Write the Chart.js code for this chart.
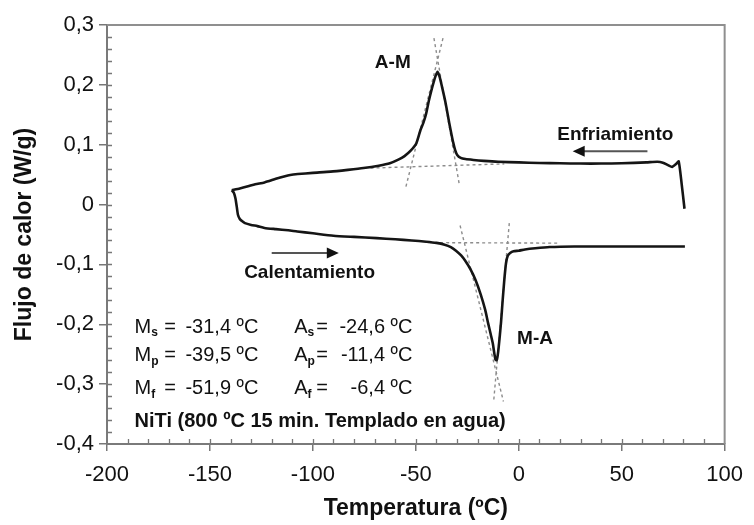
<!DOCTYPE html>
<html>
<head>
<meta charset="utf-8">
<script src="https://cdn.jsdelivr.net/npm/chart.js@4.4.1/dist/chart.umd.min.js"></script>
<style>
  html, body { margin: 0; padding: 0; background: #fff; }
  #c { display: block; }
</style>
</head>
<body>
<canvas id="c" width="754" height="525"></canvas>
<script>
// DSC scan of NiTi: cooling (A->M) and heating (M->A), heat flow in W/g vs temperature in ºC

// Cooling branch, in scan order (from 80 ºC down to -140 ºC)
const coolingT = [80.5, 79.1, 77.7, 76.5, 74.5, 72.5, 70, 67.3, 62, 50, 40, 30, 20, 10, 0, -10, -17, -22,
  -25.9, -28.2, -29.9, -30.9, -31.8, -32.6, -33.7, -35.5, -37.3, -38.5, -39.5, -40.4, -41.3, -42.5, -43.7,
  -45.0, -46.3, -47.7, -49.8, -52.5, -55.5, -58.5, -62.6, -68, -75.4, -83, -91.4, -100, -107.3, -111, -114,
  -118, -123.5, -128, -131.5, -135.5, -139.4];
const coolingQ = [-0.007, 0.035, 0.072, 0.068, 0.063, 0.066, 0.070, 0.0715, 0.0705, 0.069, 0.0685, 0.0685,
  0.069, 0.0695, 0.0705, 0.0715, 0.073, 0.0745, 0.076, 0.078, 0.083, 0.091, 0.103, 0.116, 0.135, 0.169, 0.197,
  0.214, 0.222, 0.215, 0.205, 0.190, 0.173, 0.152, 0.137, 0.125, 0.102, 0.090, 0.081, 0.075, 0.069, 0.065,
  0.061, 0.058, 0.055, 0.053, 0.051, 0.0495, 0.047, 0.043, 0.037, 0.034, 0.0306, 0.027, 0.024];

// Heating branch, in scan order (from -140 ºC up to 80 ºC)
const heatingT = [-139.4, -138.3, -137.6, -137.0, -136.4, -135.5, -134.3, -133.0, -130, -127, -123.5, -118,
  -112, -107.6, -100, -90, -80, -69, -60, -52, -45, -40, -36, -33, -30.5, -28, -26, -23.5, -21, -18.5, -16.3,
  -14.9, -13.6, -12.6, -11.9, -11.3, -10.7, -10.0, -9.4, -8.6, -7.8, -7.0, -6.2, -5.4, -4.2, -2.5, 0, 3, 8,
  15, 27, 40, 55, 70, 80.7];
const heatingQ = [0.024, 0.019, 0.010, -0.003, -0.017, -0.024, -0.028, -0.031, -0.034, -0.036, -0.039, -0.041,
  -0.043, -0.045, -0.048, -0.052, -0.054, -0.056, -0.058, -0.060, -0.062, -0.064, -0.067, -0.071, -0.077,
  -0.085, -0.094, -0.108, -0.126, -0.150, -0.176, -0.198, -0.217, -0.232, -0.248, -0.259, -0.260, -0.246,
  -0.226, -0.196, -0.159, -0.125, -0.098, -0.086, -0.081, -0.078, -0.077, -0.075, -0.073, -0.071, -0.070,
  -0.070, -0.070, -0.070, -0.070];

// Construction lines: baselines and peak tangents
const coolBaseT = [-72, -7],      coolBaseQ = [0.061, 0.068];
const coolTanLeftT = [-54.8, -36.8], coolTanLeftQ = [0.030, 0.278];
const coolTanRightT = [-29.0, -41.2], coolTanRightQ = [0.036, 0.278];
const heatBaseT = [-44, 20],      heatBaseQ = [-0.0635, -0.0645];
const heatTanLeftT = [-28.5, -7.45], heatTanLeftQ = [-0.035, -0.329];
const heatTanRightT = [-4.6, -12.2], heatTanRightQ = [-0.031, -0.329];

// Axis ticks
const xTickValues = [-200, -150, -100, -50, 0, 50, 100];
const xTickLabels = ['-200', '-150', '-100', '-50', '0', '50', '100'];
const yTickValues = [-0.4, -0.3, -0.2, -0.1, 0, 0.1, 0.2, 0.3];
const yTickLabels = ['-0,4', '-0,3', '-0,2', '-0,1', '0', '0,1', '0,2', '0,3'];
const xMinorStep = 10;
const yMinorStep = 0.02;

// Transformation temperatures
const martensiteRows = [['M', 's', '-31,4 ºC'], ['M', 'p', '-39,5 ºC'], ['M', 'f', '-51,9 ºC']];
const austeniteRows = [['A', 's', '-24,6 ºC'], ['A', 'p', '-11,4 ºC'], ['A', 'f', '-6,4 ºC']];
const sampleNote = 'NiTi (800 ºC 15 min. Templado en agua)';

const pts = (xs, ys) => xs.map((x, i) => ({ x: x, y: ys[i] }));

const FONT = "'Liberation Sans', Arial, Helvetica, sans-serif";
Chart.defaults.font.family = FONT;
Chart.defaults.color = '#111';

const curve = (label, xs, ys) => ({
  label, data: pts(xs, ys), showLine: true, borderColor: '#151515', borderWidth: 2.6,
  pointRadius: 0, tension: 0.2, fill: false
});
const guide = (label, xs, ys) => ({
  label, data: pts(xs, ys), showLine: true, borderColor: '#8c8c8c', borderWidth: 1.4,
  borderDash: [3, 3], pointRadius: 0, tension: 0, fill: false
});

const overlay = {
  id: 'overlay',
  afterDraw(chart) {
    const ctx = chart.ctx, a = chart.chartArea;
    const xs = chart.scales.x, ys = chart.scales.y;
    const px = v => xs.getPixelForValue(v), py = v => ys.getPixelForValue(v);
    ctx.save();

    // top and right frame
    ctx.strokeStyle = '#8f8f8f';
    ctx.lineWidth = 2;
    ctx.beginPath();
    ctx.moveTo(a.left, a.top);
    ctx.lineTo(a.right, a.top);
    ctx.lineTo(a.right, a.bottom);
    ctx.stroke();

    // inward minor ticks
    ctx.strokeStyle = '#777';
    ctx.lineWidth = 1.3;
    ctx.beginPath();
    for (let k = Math.round(xs.min / xMinorStep) + 1; k < Math.round(xs.max / xMinorStep); k++) {
      const x = Math.round(px(k * xMinorStep)) + 0.5;
      ctx.moveTo(x, a.bottom);
      ctx.lineTo(x, a.bottom - 5);
    }
    for (let k = Math.round(ys.min / yMinorStep) + 1; k < Math.round(ys.max / yMinorStep); k++) {
      const y = Math.round(py(k * yMinorStep)) + 0.5;
      ctx.moveTo(a.left, y);
      ctx.lineTo(a.left + 5, y);
    }
    ctx.stroke();

    // direction arrows
    const arrow = (t0, t1, q) => {
      const x0 = px(t0), x1 = px(t1), y = py(q);
      const dir = Math.sign(x1 - x0);
      ctx.strokeStyle = '#555';
      ctx.lineWidth = 2;
      ctx.beginPath();
      ctx.moveTo(x0, y);
      ctx.lineTo(x1 - dir * 11, y);
      ctx.stroke();
      ctx.fillStyle = '#111';
      ctx.beginPath();
      ctx.moveTo(x1, y);
      ctx.lineTo(x1 - dir * 12, y - 5.5);
      ctx.lineTo(x1 - dir * 12, y + 5.5);
      ctx.closePath();
      ctx.fill();
    };
    arrow(62.5, 26.2, 0.089);
    arrow(-120, -87.4, -0.081);

    // labels
    ctx.fillStyle = '#111';
    ctx.textBaseline = 'alphabetic';
    ctx.font = 'bold 19px ' + FONT;
    ctx.textAlign = 'center';
    ctx.fillText('A-M', px(-61.2), py(0.2284));
    ctx.fillText('Enfriamiento', px(46.9), py(0.1086));
    ctx.fillText('Calentamiento', px(-101.6), py(-0.122));
    ctx.fillText('M-A', px(7.9), py(-0.2324));

    // transformation temperatures block
    const rowQ = [-0.2145, -0.262, -0.3167];
    const drawRow = (row, q, tLetter, tEq, tVal, alignVal) => {
      const y = py(q);
      ctx.font = '20px ' + FONT;
      ctx.textAlign = 'left';
      ctx.fillText(row[0], px(tLetter), y);
      const w = ctx.measureText(row[0]).width;
      ctx.font = 'bold 12px ' + FONT;
      ctx.fillText(row[1], px(tLetter) + w, y + 3.5);
      ctx.font = '20px ' + FONT;
      ctx.fillText('=', px(tEq), y);
      ctx.textAlign = alignVal;
      ctx.fillText(row[2], px(tVal), y);
    };
    martensiteRows.forEach((r, i) => drawRow(r, rowQ[i], -186.6, -172.2, -161.9, 'left'));
    austeniteRows.forEach((r, i) => drawRow(r, rowQ[i], -109.1, -98.4, -51.7, 'right'));
    ctx.font = 'bold 20px ' + FONT;
    ctx.textAlign = 'left';
    ctx.fillText(sampleNote, px(-186.6), py(-0.371));

    ctx.restore();
  }
};

new Chart(document.getElementById('c'), {
  type: 'scatter',
  data: {
    datasets: [
      curve('Enfriamiento', coolingT, coolingQ),
      curve('Calentamiento', heatingT, heatingQ),
      guide('base A-M', coolBaseT, coolBaseQ),
      guide('tangente Ms', coolTanLeftT, coolTanLeftQ),
      guide('tangente Mf', coolTanRightT, coolTanRightQ),
      guide('base M-A', heatBaseT, heatBaseQ),
      guide('tangente As', heatTanLeftT, heatTanLeftQ),
      guide('tangente Af', heatTanRightT, heatTanRightQ)
    ]
  },
  options: {
    responsive: false,
    animation: false,
    devicePixelRatio: 1,
    layout: { padding: { top: 25, right: 21, left: 0, bottom: 0 } },
    plugins: { legend: { display: false }, tooltip: { enabled: false } },
    scales: {
      x: {
        type: 'linear', min: -200, max: 100,
        afterBuildTicks: s => { s.ticks = xTickValues.map(v => ({ value: v })); },
        afterFit: s => { s.height = 81; },
        ticks: { callback: (v, i) => xTickLabels[i], font: { size: 22 }, color: '#111', padding: 11,
                 maxRotation: 0, autoSkip: false },
        grid: { drawOnChartArea: false, drawTicks: true, tickLength: 7, color: '#777', lineWidth: 1.5 },
        border: { display: true, color: '#7a7a7a', width: 2 },
        title: { display: true, text: 'Temperatura (ºC)', font: { size: 23, weight: 'bold' }, color: '#111',
                 padding: { top: 0, bottom: 3 } }
      },
      y: {
        type: 'linear', min: -0.4, max: 0.3,
        afterBuildTicks: s => { s.ticks = yTickValues.map(v => ({ value: v })); },
        afterFit: s => { s.width = 107; },
        ticks: { callback: (v, i) => yTickLabels[i], font: { size: 22 }, color: '#111', padding: 5,
                 autoSkip: false },
        grid: { drawOnChartArea: false, drawTicks: true, tickLength: 8, color: '#777', lineWidth: 1.5 },
        border: { display: true, color: '#7a7a7a', width: 2 },
        title: { display: true, text: 'Flujo de calor (W/g)', font: { size: 23, weight: 'bold' }, color: '#111',
                 padding: { top: 11, bottom: 0 } }
      }
    }
  },
  plugins: [overlay]
});
</script>
</body>
</html>
